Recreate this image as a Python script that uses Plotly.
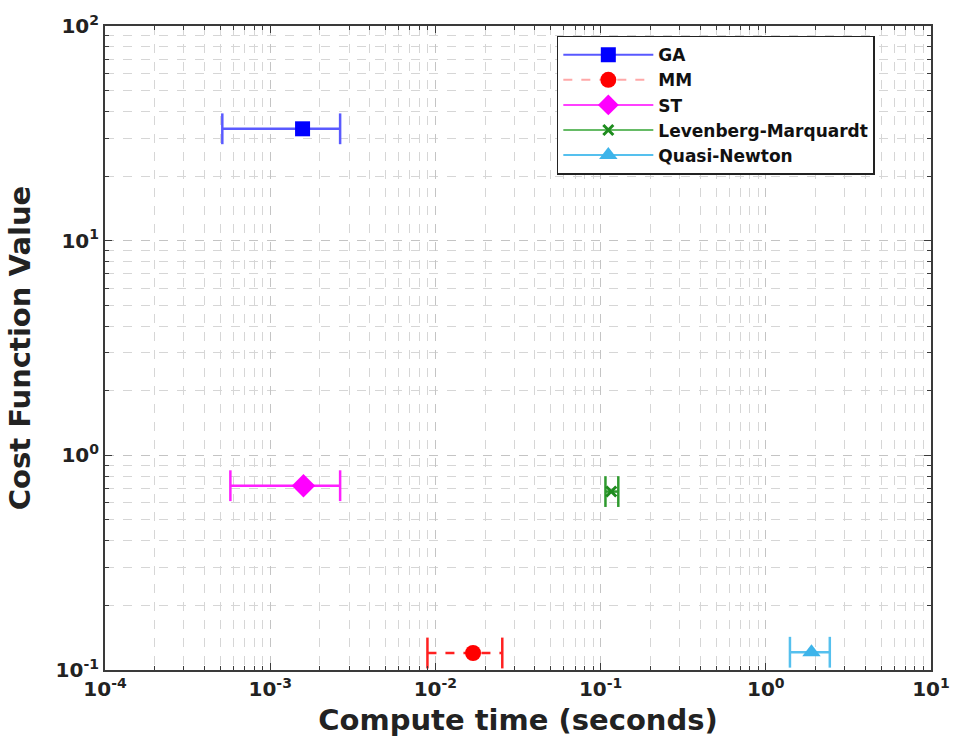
import plotly.graph_objects as go

# ---- data ----
methods = ["GA", "MM", "ST", "Levenberg-Marquardt", "Quasi-Newton"]
time_mean = [1.57e-3, 0.0169, 1.59e-3, 0.116, 1.89]
time_low = [5.13e-4, 8.95e-3, 5.74e-4, 0.107, 1.40]
time_high = [2.65e-3, 0.0254, 2.65e-3, 0.128, 2.44]
cost_value = [33.2, 0.120, 0.722, 0.678, 0.121]

x_tickvals = [1e-4, 1e-3, 1e-2, 1e-1, 1e0, 1e1]
x_ticktext = ["10<sup>-4</sup>", "10<sup>-3</sup>", "10<sup>-2</sup>", "10<sup>-1</sup>", "10<sup>0</sup>", "10<sup>1</sup>"]
y_tickvals = [1e-1, 1e0, 1e1, 1e2]
y_ticktext = ["10<sup>-1</sup>", "10<sup>0</sup>", "10<sup>1</sup>", "10<sup>2</sup>"]
x_minor = [d * 10.0 ** e for e in range(-4, 1) for d in range(2, 10)]
y_minor = [d * 10.0 ** e for e in range(-1, 2) for d in range(2, 10)]

# ---- styles ----
marker_colors = ["#0000FF", "#FF0000", "#FF00FF", "#1E8C1E", "#3DB4EA"]
whisker_colors = ["#5A5AFF", "#FF2020", "#FF20FF", "#2E9A2E", "#55C0EE"]
legend_line_colors = ["#5858FF", "#FFA8A8", "#FF40FF", "#66BB66", "#55C0EE"]
dashes = ["solid", "dash", "solid", "solid", "solid"]
symbols = ["square", "circle", "diamond", "x-thin", "triangle-up"]
sizes = [15, 16, 18, 10, 16]

FONT = "DejaVu Sans"
fig = go.Figure()

for i, m in enumerate(methods):
    fig.add_trace(go.Scatter(
        x=[time_low[i], time_high[i]], y=[cost_value[i], cost_value[i]],
        mode="lines+markers",
        line=dict(color=whisker_colors[i], width=2.5, dash=dashes[i]),
        marker=dict(symbol="line-ns", size=22, line=dict(color=whisker_colors[i], width=2.5)),
        showlegend=False, hoverinfo="skip"))

for i, m in enumerate(methods):
    mk = dict(symbol=symbols[i], size=sizes[i], color=marker_colors[i])
    if symbols[i] == "x-thin":
        mk["line"] = dict(color=marker_colors[i], width=3)
    else:
        mk["line"] = dict(color=marker_colors[i], width=0)
    fig.add_trace(go.Scatter(
        x=[time_mean[i]], y=[cost_value[i]], name=m,
        mode="lines+markers",
        line=dict(color=legend_line_colors[i], width=2, dash=dashes[i]),
        marker=mk))

def axis_common(minor_vals):
    return dict(
        type="log", showline=True, linecolor="#3a3a3a", linewidth=2, mirror="ticks",
        ticks="inside", ticklen=7, tickcolor="#3a3a3a", tickwidth=1,
        showgrid=True, gridcolor="#c4c4c4", griddash="dash", gridwidth=1,
        minor=dict(tickmode="array", tickvals=minor_vals, showgrid=True,
                   gridcolor="#d6d6d6", griddash="dash", ticks="inside",
                   ticklen=4, tickcolor="#3a3a3a"),
        zeroline=False,
        tickfont=dict(family=FONT, size=20, color="#222222", weight="bold"),
    )

fig.update_xaxes(**axis_common(x_minor), range=[-4, 1], tickmode="array",
                 tickvals=x_tickvals, ticktext=x_ticktext,
                 title=dict(text="Compute time (seconds)", standoff=10,
                            font=dict(family=FONT, size=29, color="#222222", weight="bold")))
fig.update_yaxes(**axis_common(y_minor), range=[-1, 2], tickmode="array",
                 tickvals=y_tickvals, ticktext=y_ticktext,
                 title=dict(text="Cost Function Value", standoff=16,
                            font=dict(family=FONT, size=29, color="#222222", weight="bold")))

fig.update_layout(
    width=962, height=753,
    margin=dict(l=105, r=29, t=18, b=83),
    paper_bgcolor="white", plot_bgcolor="white",
    legend=dict(x=0.547, y=0.985, xanchor="left", yanchor="top",
                bgcolor="white", bordercolor="#222222", borderwidth=1.5,
                font=dict(family=FONT, size=17, color="#111111", weight="bold"),
                tracegroupgap=0, itemwidth=90),
)

fig.write_html("out.html")
